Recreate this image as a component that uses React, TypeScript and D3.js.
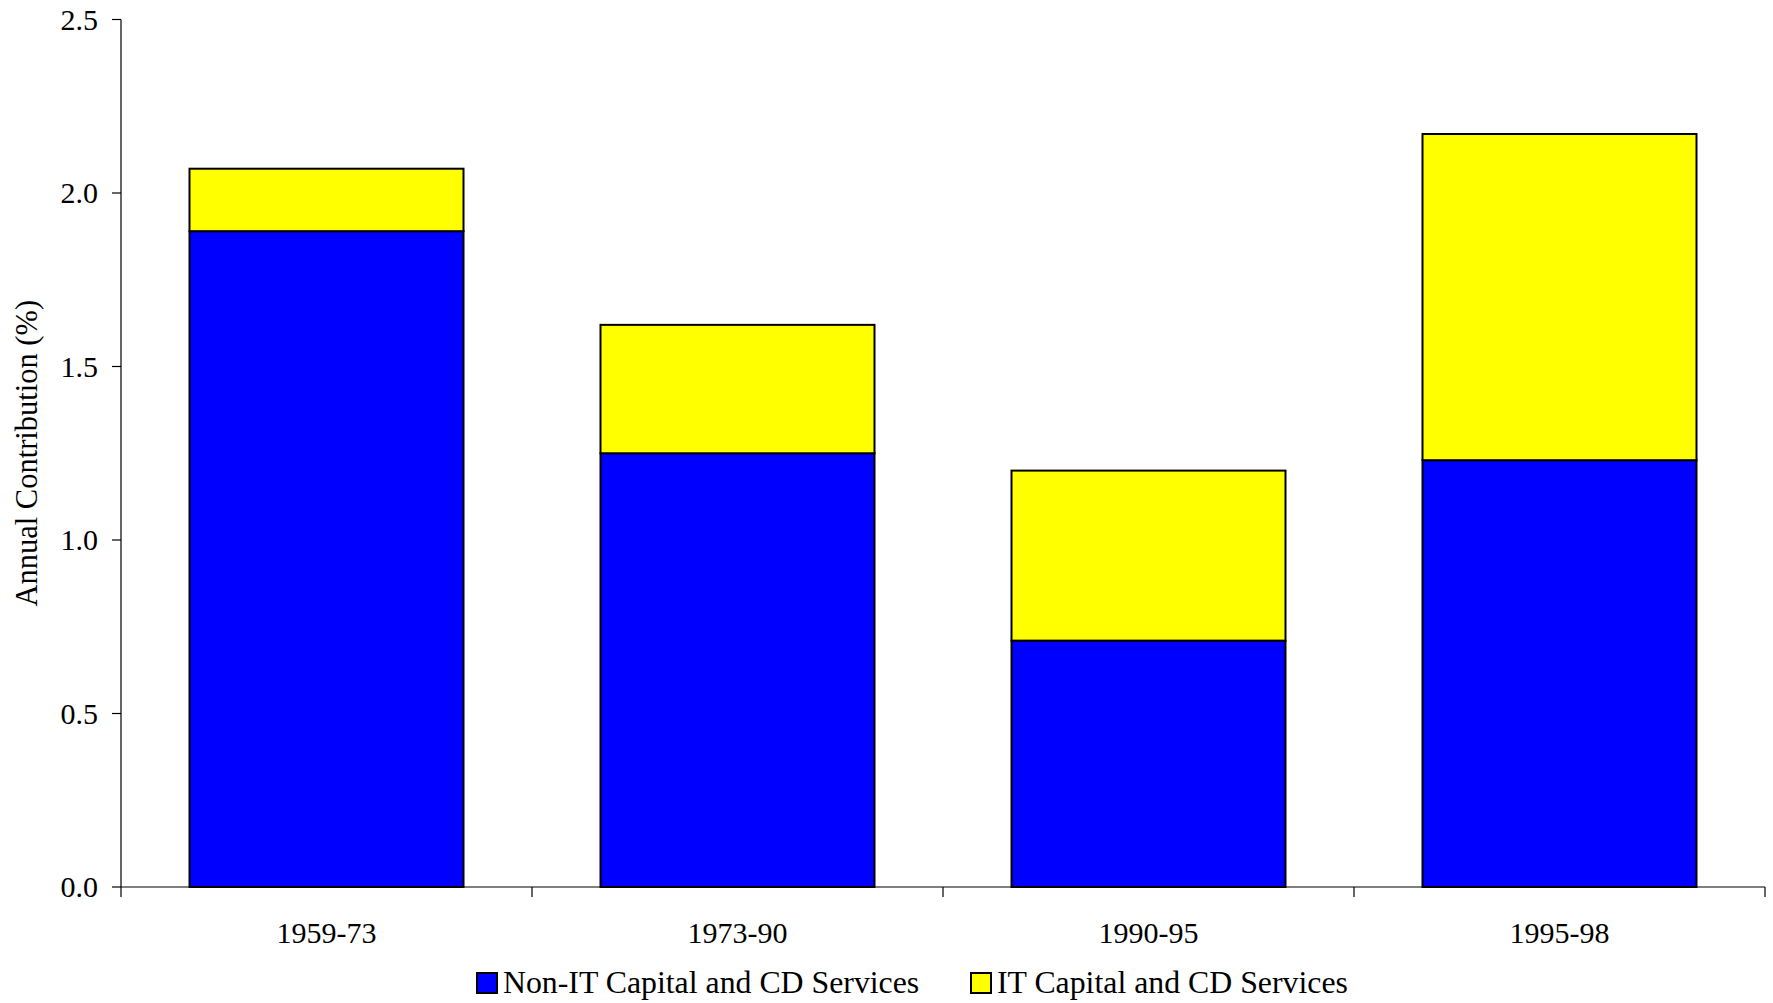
import React from "react";
import * as d3 from "d3";

// Contribution of capital and consumer-durable services to growth, by period
const periods = ["1959-73", "1973-90", "1990-95", "1995-98"];
const nonITServices = [1.89, 1.25, 0.71, 1.23];
const itServices = [0.18, 0.37, 0.49, 0.94];
const seriesNames = ["Non-IT Capital and CD Services", "IT Capital and CD Services"];
const seriesColors = ["#0000ff", "#ffff00"];
const yTicks = [0, 0.5, 1.0, 1.5, 2.0, 2.5];

const W = 1773;
const H = 1003;
const left = 121;
const right = 1765;
const top = 19.5;
const bottom = 887;
const FONT = "'Liberation Serif', 'Times New Roman', serif";

export default function App() {
  const x = d3
    .scaleBand<string>()
    .domain(periods)
    .range([left, right])
    .paddingInner(1 / 3)
    .paddingOuter(1 / 6);
  const y = d3.scaleLinear().domain([0, 2.5]).range([bottom, top]);

  const rows = periods.map((p, i) => ({ period: p, nonIT: nonITServices[i], it: itServices[i] }));
  const stacked = d3.stack<any>().keys(["nonIT", "it"])(rows);

  const step = x.step();
  const boundaries = d3.range(1, periods.length + 1).map((k) => left + k * step);

  return (
    <svg
      width={W}
      height={H}
      style={{ position: "absolute", left: 0, top: 0, background: "#fff" }}
      fontFamily={FONT}
    >
      <rect x={0} y={0} width={W} height={H} fill="#fff" />

      {/* stacked bars */}
      {stacked.map((layer, si) => (
        <g key={si}>
          {layer.map((d, i) => (
            <rect
              key={i}
              x={x(periods[i])}
              y={y(d[1])}
              width={x.bandwidth()}
              height={y(d[0]) - y(d[1])}
              fill={seriesColors[si]}
              stroke="#000"
              strokeWidth={2}
            />
          ))}
        </g>
      ))}

      {/* y axis */}
      <line x1={left} x2={left} y1={top} y2={bottom + 10} stroke="#000" strokeWidth={1.2} />
      {yTicks.map((t) => (
        <g key={t}>
          <line x1={left - 9} x2={left} y1={y(t)} y2={y(t)} stroke="#000" strokeWidth={1.2} />
          <text x={left - 23} y={y(t) + 10} textAnchor="end" fontSize={30} fill="#000">
            {t.toFixed(1)}
          </text>
        </g>
      ))}
      <text
        transform={`translate(37, ${(top + bottom) / 2}) rotate(-90)`}
        textAnchor="middle"
        fontSize={30.5}
        fill="#000"
      >
        Annual Contribution (%)
      </text>

      {/* x axis */}
      <line x1={left} x2={right} y1={bottom} y2={bottom} stroke="#000" strokeWidth={1.2} />
      {boundaries.map((bx, i) => (
        <line key={i} x1={bx} x2={bx} y1={bottom} y2={bottom + 10} stroke="#000" strokeWidth={1.2} />
      ))}
      {periods.map((p) => (
        <text
          key={p}
          x={(x(p) as number) + x.bandwidth() / 2}
          y={943}
          textAnchor="middle"
          fontSize={30}
          fill="#000"
        >
          {p}
        </text>
      ))}

      {/* legend */}
      {seriesNames.map((name, i) => {
        const lx = i === 0 ? 477 : 971;
        return (
          <g key={name}>
            <rect x={lx} y={973} width={20} height={20} fill={seriesColors[i]} stroke="#000" strokeWidth={2} />
            <text x={lx + 26} y={993} fontSize={31.8} fill="#000">
              {name}
            </text>
          </g>
        );
      })}
    </svg>
  );
}
